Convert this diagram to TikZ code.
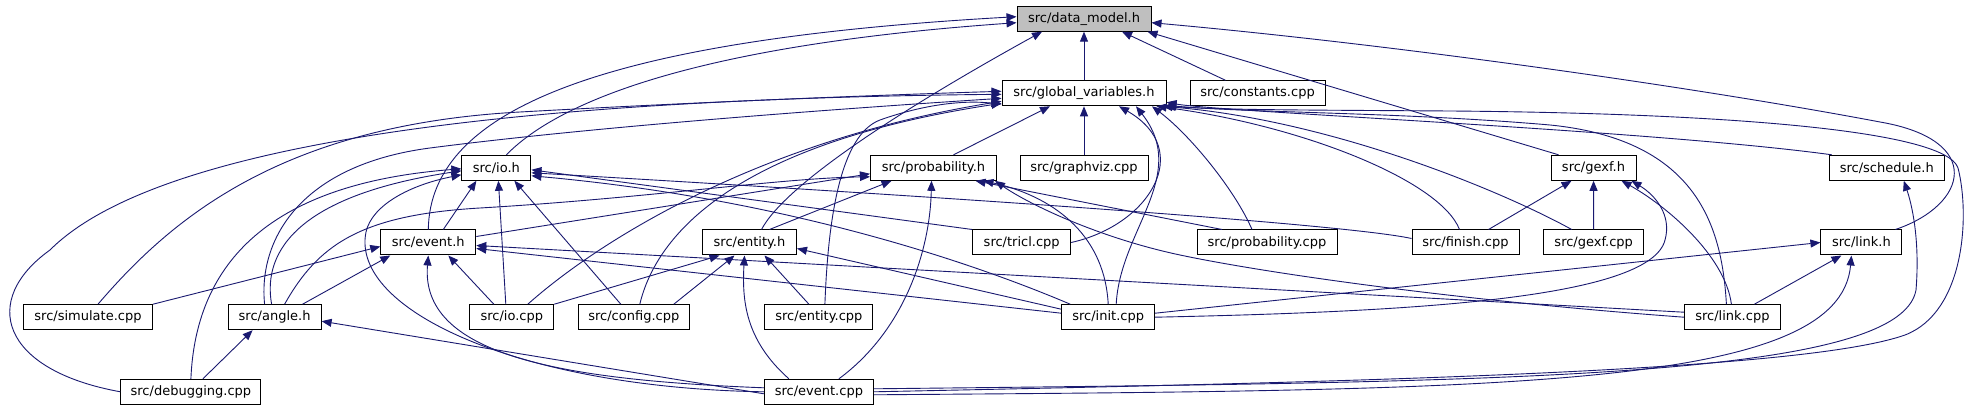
\documentclass[tikz,border=0pt]{standalone}
\usepackage{fontspec}
\setmainfont{DejaVu Sans}
\usetikzlibrary{arrows.meta}
\definecolor{edgec}{HTML}{191970}
\definecolor{dmfill}{HTML}{BFBFBF}
\begin{document}
\begin{tikzpicture}[x=1pt,y=-1pt,
  box/.style={draw=black, line width=1pt, fill=white, minimum height=25pt, inner sep=0pt, font=\fontsize{13}{15}\selectfont},
  e/.style={draw=edgec, line width=0.9pt, -{Triangle[length=10pt,width=8pt]}}]
\useasboundingbox[fill=white] (0,0) rectangle (1969,411);
% nodes
\node[box, fill=dmfill, minimum width=134pt] (dm) at (1084,18.7) {src/data\_model.h};
\node[box, minimum width=164pt] (gv) at (1084,93.3) {src/global\_variables.h};
\node[box, minimum width=135pt] (cst) at (1257.5,93.3) {src/constants.cpp};
\node[box, minimum width=126pt] (probh) at (933.5,167.8) {src/probability.h};
\node[box, minimum width=128pt] (graphviz) at (1084,167.8) {src/graphviz.cpp};
\node[box, minimum width=85pt] (gexfh) at (1593.5,167.8) {src/gexf.h};
\node[box, minimum width=115pt] (sched) at (1886.8,167.8) {src/schedule.h};
\node[box, minimum width=69pt] (ioh) at (496.4,167.8) {src/io.h};
\node[box, minimum width=95pt] (eventh) at (428.3,242.5) {src/event.h};
\node[box, minimum width=94pt] (entityh) at (749.5,242.5) {src/entity.h};
\node[box, minimum width=98pt] (tricl) at (1021.7,242.5) {src/tricl.cpp};
\node[box, minimum width=140pt] (probcpp) at (1267,242.5) {src/probability.cpp};
\node[box, minimum width=107pt] (finish) at (1465.5,242.5) {src/finish.cpp};
\node[box, minimum width=100pt] (gexfcpp) at (1593.7,242.5) {src/gexf.cpp};
\node[box, minimum width=81pt] (linkh) at (1861.4,242.5) {src/link.h};
\node[box, minimum width=129pt] (simulate) at (88,317.2) {src/simulate.cpp};
\node[box, minimum width=93pt] (angle) at (274.6,317.2) {src/angle.h};
\node[box, minimum width=84pt] (iocpp) at (511.8,317.2) {src/io.cpp};
\node[box, minimum width=111pt] (config) at (633.8,317.2) {src/config.cpp};
\node[box, minimum width=108pt] (entitycpp) at (818.9,317.2) {src/entity.cpp};
\node[box, minimum width=93pt] (init) at (1108.2,317.2) {src/init.cpp};
\node[box, minimum width=96pt] (linkcpp) at (1732.4,317.2) {src/link.cpp};
\node[box, minimum width=140pt] (debugging) at (190.9,391.8) {src/debugging.cpp};
\node[box, minimum width=109pt] (eventcpp) at (818.9,391.8) {src/event.cpp};
% edges to data_model.h
\draw[e] (gv.north) -- (dm.south);
\draw[e] ([xshift=-32pt]cst.north) -- ([xshift=38pt]dm.south);
\draw[e] ([xshift=10pt]ioh.north) .. controls (560,100) and (700,45) .. ([yshift=-4pt]dm.west);
\draw[e] (eventh.north) .. controls (430,110) and (600,40) .. ([yshift=2pt]dm.west);
\draw[e] ([xshift=12pt]entityh.north) .. controls (785,185) and (900,110) .. ([xshift=-42pt]dm.south);
\draw[e] ([xshift=-35pt]gexfh.north) -- ([xshift=-4pt]dm.south east);
\draw[e] ([xshift=34pt]linkh.north) .. controls (1968,205) and (1985,140) .. (1880,122) .. controls (1700,88) and (1400,45) .. ([yshift=-4pt]dm.east);
% edges to global_variables.h
\draw[e] ([xshift=20pt]probh.north) -- ([xshift=-34pt]gv.south);
\draw[e] (graphviz) -- (gv);
\draw[e] ([xshift=-55pt]sched.north) .. controls (1650,130) and (1220,112) .. ([yshift=4pt]gv.south east);
\draw[e] ([xshift=10pt]simulate.north) .. controls (170,220) and (280,125) .. (520,112) .. controls (700,102) and (880,95) .. ([yshift=2pt]gv.west);
\draw[e] (debugging.west) .. controls (0,370) and (-20,300) .. (50,250) .. controls (140,160) and (420,100) .. ([yshift=-1pt]gv.west);
\draw[e] ([xshift=-10pt]angle.north) .. controls (258,240) and (300,165) .. (430,148) .. controls (600,126) and (850,108) .. ([yshift=-5pt]gv.west);
\draw[e] ([xshift=16pt]iocpp.north) .. controls (600,240) and (760,140) .. ([yshift=-8pt]gv.west);
\draw[e] ([xshift=6pt]config.north) .. controls (660,220) and (760,140) .. ([yshift=-10pt]gv.west);
\draw[e] ([xshift=6pt]entitycpp.north) .. controls (828,220) and (840,135) .. (880,120) .. controls (925,104) and (965,100) .. ([yshift=-11pt]gv.west);
\draw[e] (tricl.east) .. controls (1150,225) and (1195,150) .. ([xshift=35pt]gv.south);
\draw[e] ([xshift=-15pt]probcpp.north) .. controls (1235,190) and (1190,135) .. ([xshift=68pt]gv.south);
\draw[e] ([xshift=8pt]init.north) .. controls (1120,230) and (1190,175) .. ([xshift=52pt]gv.south);
\draw[e] ([xshift=-6pt]finish.north) .. controls (1440,180) and (1300,125) .. ([xshift=-10pt]gv.south east);
\draw[e] ([xshift=-22pt]gexfcpp.north) .. controls (1500,190) and (1330,120) .. ([xshift=-4pt]gv.south east);
\draw[e] ([xshift=-6pt]linkcpp.north) .. controls (1722,230) and (1700,140) .. (1550,125) .. controls (1400,112) and (1250,113) .. ([yshift=1pt]gv.south east);
\draw[e] (eventcpp.east) .. controls (1350,382) and (1800,372) .. (1905,335) .. controls (1965,312) and (1970,215) .. (1958,168) .. controls (1945,128) and (1700,113) .. (1450,111) .. controls (1300,110) and (1230,110) .. ([xshift=-1pt]gv.south east);
% edges to io.h
\draw[e] ([xshift=15pt]eventh.north) -- ([xshift=-20pt]ioh.south);
\draw[e] ([xshift=-3pt]angle.north) .. controls (262,250) and (300,195) .. ([yshift=-3pt]ioh.west);
\draw[e] (debugging.north) .. controls (195,280) and (250,185) .. ([yshift=-1pt]ioh.west);
\draw[e] ([xshift=-6pt]iocpp.north) -- ([xshift=2pt]ioh.south);
\draw[e] ([xshift=-13pt]config.north) -- ([xshift=18pt]ioh.south);
\draw[e] (eventcpp.west) .. controls (520,388) and (350,310) .. (366,232) .. controls (372,205) and (410,185) .. ([yshift=-7pt]ioh.west);
\draw[e] (tricl.north west) -- ([yshift=-2pt]ioh.east);
\draw[e] ([yshift=4pt]finish.west) .. controls (1350,225) and (1000,200) .. ([yshift=-5pt]ioh.east);
\draw[e] ([xshift=-38pt]init.north) .. controls (990,270) and (800,200) .. ([yshift=-8pt]ioh.east);
% edges to probability.h
\draw[e] ([yshift=6pt]eventh.east) -- ([yshift=-6pt]probh.west);
\draw[e] ([xshift=10pt]angle.north) .. controls (318,245) and (360,215) .. (480,208) .. controls (650,198) and (780,178) .. ([yshift=-9pt]probh.west);
\draw[e] ([xshift=20pt]entityh.north) -- ([xshift=-42pt]probh.south);
\draw[e] ([xshift=20pt]eventcpp.north) .. controls (905,330) and (930,250) .. ([xshift=-2pt]probh.south);
\draw[e] ([xshift=-45pt]probcpp.north) -- ([xshift=42pt]probh.south);
\draw[e] (init.north) .. controls (1105,240) and (1060,198) .. ([xshift=50pt]probh.south);
\draw[e] (linkcpp.west) .. controls (1450,300) and (1260,272) .. (1180,255) .. controls (1100,238) and (1030,205) .. ([xshift=-2pt]probh.south east);
% edges to event.h
\draw[e] (simulate.north east) -- ([yshift=-4pt]eventh.west);
\draw[e] ([xshift=28pt]angle.north) -- ([xshift=-38pt]eventh.south);
\draw[e] ([xshift=-18pt]iocpp.north) -- ([xshift=20pt]eventh.south);
\draw[e] ([yshift=4pt]eventcpp.west) .. controls (560,380) and (420,355) .. (eventh.south);
\draw[e] ([yshift=4pt]init.west) -- ([yshift=-6pt]eventh.east);
\draw[e] ([yshift=5pt]linkcpp.west) -- ([yshift=-3pt]eventh.east);
% edges to entity.h
\draw[e] (iocpp.north east) -- ([xshift=-30pt]entityh.south);
\draw[e] ([xshift=40pt]config.north) -- ([xshift=-15pt]entityh.south);
\draw[e] ([xshift=-10pt]entitycpp.north) -- ([xshift=15pt]entityh.south);
\draw[e] ([xshift=-30pt]eventcpp.north) .. controls (745,340) and (742,300) .. ([xshift=-5pt]entityh.south);
\draw[e] ([yshift=8pt]init.west) -- ([yshift=-6pt]entityh.east);
% edges to angle.h
\draw[e] ([xshift=12pt]debugging.north) -- ([xshift=-22pt]angle.south);
\draw[e] ([yshift=-2pt]eventcpp.west) -- ([yshift=-4pt]angle.east);
% edges to gexf.h
\draw[e] ([xshift=23pt]finish.north) -- ([xshift=-22pt]gexfh.south);
\draw[e] (gexfcpp) -- (gexfh);
\draw[e] (init.east) .. controls (1400,312) and (1650,300) .. (1665,240) .. controls (1672,215) and (1655,195) .. ([xshift=38pt]gexfh.south);
\draw[e] ([xshift=-1pt]linkcpp.north) .. controls (1725,255) and (1665,205) .. ([xshift=28pt]gexfh.south);
% edges to link.h
\draw[e] ([yshift=4pt]init.east) -- (linkh.west);
\draw[e] ([xshift=22pt]linkcpp.north) -- ([xshift=-20pt]linkh.south);
\draw[e] ([yshift=-3pt]eventcpp.east) .. controls (1500,390) and (1840,390) .. ([xshift=-10pt]linkh.south);
% edge to schedule.h
\draw[e] ([yshift=3pt]eventcpp.east) .. controls (1500,382) and (1900,380) .. (1916,290) .. controls (1920,240) and (1912,205) .. ([xshift=17pt]sched.south);
\end{tikzpicture}
\end{document}
